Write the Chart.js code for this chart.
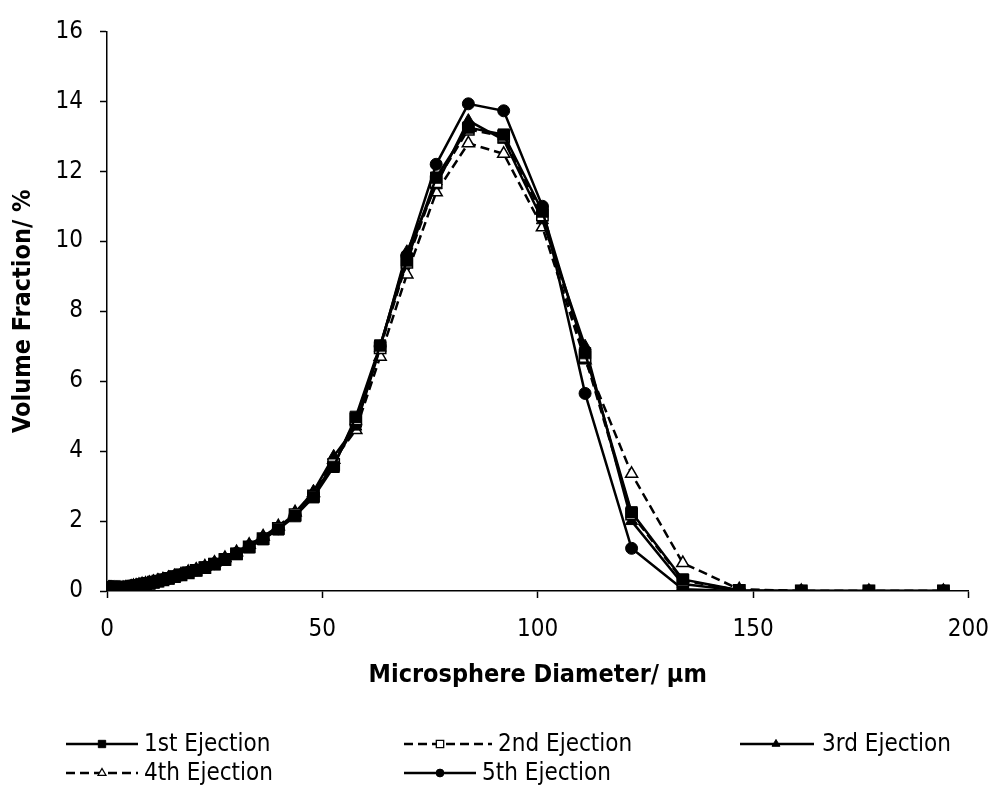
<!DOCTYPE html>
<html>
<head>
<meta charset="utf-8">
<script src="https://cdn.jsdelivr.net/npm/chart.js@4"></script>
<style>
  html, body { margin: 0; padding: 0; background: #fff; }
</style>
</head>
<body>
<canvas id="chart" width="1006" height="791"></canvas>
<script>
// channel sizes (um) of the particle sizer
const diameters = [
  0.375, 0.412, 0.452, 0.496, 0.545, 0.598, 0.656, 0.721, 0.791, 0.868,
  0.953, 1.047, 1.149, 1.261, 1.385, 1.520, 1.669, 1.832, 2.011, 2.207,
  2.423, 2.660, 2.920, 3.205, 3.519, 3.862, 4.240, 4.655, 5.110, 5.610,
  6.158, 6.760, 7.421, 8.147, 8.943, 9.818, 10.78, 11.83, 12.99, 14.26,
  15.65, 17.18, 18.86, 20.71, 22.73, 24.95, 27.39, 30.07, 33.01, 36.24,
  39.78, 43.67, 47.94, 52.63, 57.77, 63.42, 69.62, 76.43, 83.90, 92.10,
  101.1, 111.0, 121.8, 133.7, 146.8, 161.2, 176.9, 194.2
];

const ejection1 = [
  0.08, 0.08, 0.08, 0.08, 0.08, 0.08, 0.08, 0.08, 0.08, 0.08,
  0.08, 0.08, 0.08, 0.08, 0.08, 0.08, 0.08, 0.08, 0.08, 0.08,
  0.08, 0.08, 0.08, 0.08, 0.08, 0.08, 0.09, 0.10, 0.11, 0.12,
  0.13, 0.15, 0.16, 0.18, 0.20, 0.22, 0.25, 0.28, 0.32, 0.36,
  0.41, 0.46, 0.52, 0.59, 0.67, 0.77, 0.90, 1.06, 1.25, 1.48,
  1.76, 2.14, 2.68, 3.55, 4.98, 7.02, 9.45, 11.82, 13.25, 13.05,
  10.85, 6.80, 2.25, 0.33, 0.02, 0.00, 0.00, 0.00
];
const ejection2 = [
  0.08, 0.08, 0.08, 0.08, 0.08, 0.08, 0.08, 0.08, 0.08, 0.08,
  0.08, 0.08, 0.08, 0.08, 0.08, 0.08, 0.08, 0.08, 0.08, 0.08,
  0.08, 0.08, 0.08, 0.08, 0.08, 0.08, 0.09, 0.10, 0.11, 0.12,
  0.13, 0.15, 0.16, 0.18, 0.20, 0.22, 0.25, 0.28, 0.32, 0.36,
  0.41, 0.46, 0.52, 0.59, 0.67, 0.77, 0.90, 1.06, 1.26, 1.50,
  1.79, 2.18, 2.72, 3.62, 4.92, 6.95, 9.40, 11.70, 13.20, 13.00,
  10.75, 6.70, 2.20, 0.30, 0.02, 0.00, 0.00, 0.00
];
const ejection3 = [
  0.08, 0.08, 0.08, 0.08, 0.08, 0.08, 0.08, 0.08, 0.08, 0.08,
  0.08, 0.08, 0.08, 0.08, 0.08, 0.08, 0.08, 0.08, 0.08, 0.08,
  0.08, 0.08, 0.08, 0.08, 0.08, 0.08, 0.09, 0.10, 0.11, 0.12,
  0.14, 0.15, 0.17, 0.19, 0.21, 0.23, 0.26, 0.29, 0.33, 0.37,
  0.42, 0.47, 0.54, 0.61, 0.69, 0.80, 0.93, 1.10, 1.30, 1.54,
  1.82, 2.22, 2.85, 3.85, 4.70, 6.95, 9.70, 11.60, 13.45, 12.90,
  10.60, 7.00, 2.00, 0.20, 0.01, 0.00, 0.00, 0.00
];
const ejection4 = [
  0.08, 0.08, 0.08, 0.08, 0.08, 0.08, 0.08, 0.08, 0.08, 0.08,
  0.08, 0.08, 0.08, 0.08, 0.08, 0.08, 0.08, 0.08, 0.08, 0.08,
  0.08, 0.08, 0.08, 0.08, 0.08, 0.08, 0.09, 0.10, 0.11, 0.12,
  0.14, 0.15, 0.17, 0.19, 0.21, 0.23, 0.26, 0.29, 0.33, 0.37,
  0.42, 0.47, 0.54, 0.61, 0.70, 0.81, 0.94, 1.11, 1.32, 1.56,
  1.85, 2.25, 2.80, 3.75, 4.60, 6.70, 9.05, 11.40, 12.80, 12.50,
  10.40, 6.60, 3.35, 0.80, 0.05, 0.00, 0.00, 0.00
];
const ejection5 = [
  0.08, 0.08, 0.08, 0.08, 0.08, 0.08, 0.08, 0.08, 0.08, 0.08,
  0.08, 0.08, 0.08, 0.08, 0.08, 0.08, 0.08, 0.08, 0.08, 0.08,
  0.08, 0.08, 0.08, 0.08, 0.08, 0.08, 0.09, 0.10, 0.11, 0.12,
  0.13, 0.15, 0.16, 0.18, 0.20, 0.22, 0.25, 0.28, 0.32, 0.36,
  0.41, 0.46, 0.53, 0.60, 0.68, 0.78, 0.91, 1.08, 1.27, 1.50,
  1.78, 2.18, 2.75, 3.65, 4.75, 7.00, 9.60, 12.20, 13.93, 13.73,
  11.00, 5.65, 1.22, 0.05, 0.00, 0.00, 0.00, 0.00
];

const seriesNames = ['1st Ejection', '2nd Ejection', '3rd Ejection', '4th Ejection', '5th Ejection'];
const seriesValues = [ejection1, ejection2, ejection3, ejection4, ejection5];

const xTitle = 'Microsphere Diameter/ \u00b5m';
const yTitle = 'Volume Fraction/ %';

const FONT = '"DejaVu Sans Condensed", "DejaVu Sans", sans-serif';

// look of each series: marker, filled or open, dashed or solid
const looks = [
  { pointStyle: 'rect',     radius: 8,   filled: true,  dash: [] },
  { pointStyle: 'rect',     radius: 8,   filled: false, dash: [9, 5] },
  { pointStyle: 'triangle', radius: 7,   filled: true,  dash: [] },
  { pointStyle: 'triangle', radius: 7,   filled: false, dash: [9, 5] },
  { pointStyle: 'circle',   radius: 6,   filled: true,  dash: [] }
];

const datasets = seriesNames.map((name, i) => ({
  label: name,
  data: diameters.map((d, j) => ({ x: d, y: seriesValues[i][j] })),
  showLine: true,
  tension: 0,
  borderColor: '#000',
  borderWidth: 2.5,
  borderDash: looks[i].dash,
  pointStyle: looks[i].pointStyle,
  pointRadius: looks[i].radius,
  pointHoverRadius: looks[i].radius,
  pointBackgroundColor: looks[i].filled ? '#000' : '#fff',
  pointBorderColor: '#000',
  pointBorderWidth: looks[i].filled ? 1 : 1.5
}));

// legend laid out in a grid like the original
const gridLegend = {
  id: 'gridLegend',
  afterDraw(chart) {
    const ctx = chart.ctx;
    const slots = [
      { x: 66,  y: 744, w: 72, tx: 144 },
      { x: 404, y: 744, w: 88, tx: 498 },
      { x: 740, y: 744, w: 74, tx: 822 },
      { x: 66,  y: 773, w: 72, tx: 144 },
      { x: 404, y: 773, w: 72, tx: 482 }
    ];
    ctx.save();
    slots.forEach((s, i) => {
      const lk = looks[i];
      ctx.strokeStyle = '#000';
      ctx.lineWidth = 2.5;
      ctx.setLineDash(lk.dash);
      ctx.beginPath();
      ctx.moveTo(s.x, s.y);
      ctx.lineTo(s.x + s.w, s.y);
      ctx.stroke();
      ctx.setLineDash([]);
      ctx.fillStyle = lk.filled ? '#000' : '#fff';
      ctx.lineWidth = lk.filled ? 1 : 1.3;
      Chart.helpers.drawPoint(ctx, {
        pointStyle: lk.pointStyle,
        radius: lk.radius * 0.65,
        rotation: 0,
        borderWidth: ctx.lineWidth
      }, s.x + 36, s.y);
      ctx.fillStyle = '#000';
      ctx.font = '24px ' + FONT;
      ctx.textAlign = 'left';
      ctx.textBaseline = 'middle';
      ctx.fillText(seriesNames[i], s.tx, s.y + 1);
    });
    ctx.restore();
  }
};

new Chart(document.getElementById('chart'), {
  type: 'scatter',
  data: { datasets },
  options: {
    responsive: false,
    animation: false,
    layout: { padding: { left: 0, right: 29, top: 21, bottom: 91 } },
    plugins: {
      legend: { display: false },
      tooltip: { enabled: false }
    },
    scales: {
      x: {
        type: 'linear', min: 0, max: 200,
        afterFit: s => { s.height = 109; },
        ticks: { stepSize: 50, color: '#000', font: { family: FONT, size: 24 }, padding: 17, maxRotation: 0 },
        grid: { drawOnChartArea: false, drawTicks: true, tickLength: 7, tickColor: '#000', tickWidth: 1.5 },
        border: { color: '#000', width: 1.5 },
        title: { display: true, text: xTitle, color: '#000', font: { family: FONT, size: 25, weight: 'bold' }, padding: { top: 0, bottom: 10 } }
      },
      y: {
        min: 0, max: 16,
        afterFit: s => { s.width = 107; },
        ticks: { stepSize: 2, color: '#000', font: { family: FONT, size: 24 }, padding: 17 },
        grid: { drawOnChartArea: false, drawTicks: true, tickLength: 7, tickColor: '#000', tickWidth: 1.5 },
        border: { color: '#000', width: 1.5 },
        title: { display: true, text: yTitle, color: '#000', font: { family: FONT, size: 25, weight: 'bold' }, padding: { top: 8, bottom: 0 } }
      }
    }
  },
  plugins: [gridLegend]
});
</script>
</body>
</html>
